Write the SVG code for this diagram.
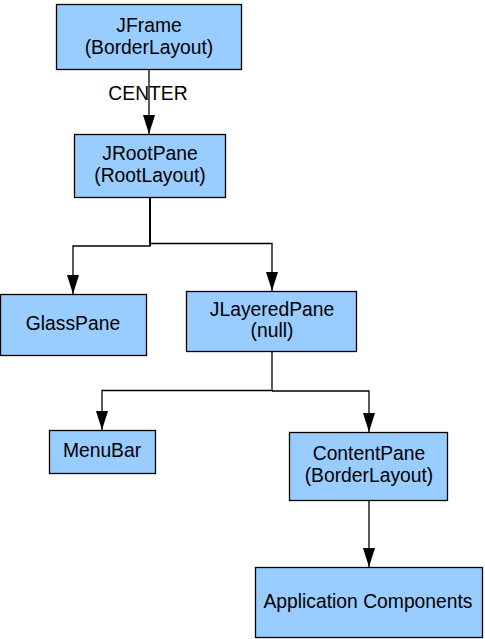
<svg xmlns="http://www.w3.org/2000/svg" width="485" height="639" viewBox="0 0 485 639">
<style>
.box{fill:#99ccff;stroke:#000;stroke-width:1.3}
.t{font-family:"Liberation Sans",Arial,sans-serif;font-size:19.3px;fill:#000;text-anchor:middle}
.c{fill:none;stroke:#000;stroke-width:1.3}
</style>
<defs>
<marker id="arr" markerUnits="userSpaceOnUse" markerWidth="20" markerHeight="13" viewBox="0 0 20 13" refX="19" refY="6.5" orient="auto">
<path d="M0,0.5 L19,6.5 L0,12.5 Z" fill="#000"/>
</marker>
</defs>
<rect width="485" height="639" fill="#fff"/>
<g id="connectors">
<path class="c" d="M149,69 V134" marker-end="url(#arr)"/>
<text class="t" x="148" y="100">CENTER</text>
<path class="c" d="M150,197 V246 H73 V294" marker-end="url(#arr)"/>
<path d="M150,197 V246" stroke="#000" stroke-width="2" fill="none"/>
<path class="c" d="M150,243.5 H272 V291" marker-end="url(#arr)"/>
<path class="c" d="M272,351 V390.5 H102 V430" marker-end="url(#arr)"/>
<path class="c" d="M272,391 H369 V432" marker-end="url(#arr)"/>
<path class="c" d="M369,500 V567" marker-end="url(#arr)"/>
</g>
<g id="jframe">
<rect class="box" x="56.5" y="4.5" width="185" height="65"/>
<text class="t" x="149" y="32">JFrame</text>
<text class="t" x="149" y="54">(BorderLayout)</text>
</g>
<g id="jrootpane">
<rect class="box" x="74.5" y="134.5" width="151" height="63"/>
<text class="t" x="150" y="160">JRootPane</text>
<text class="t" x="150" y="182">(RootLayout)</text>
</g>
<g id="glasspane">
<rect class="box" x="0.5" y="294.5" width="146" height="61"/>
<text class="t" x="73" y="330">GlassPane</text>
</g>
<g id="jlayeredpane">
<rect class="box" x="186.5" y="291.5" width="170" height="60"/>
<text class="t" x="272" y="316">JLayeredPane</text>
<text class="t" x="272" y="337">(null)</text>
</g>
<g id="menubar">
<rect class="box" x="49.5" y="430.5" width="106" height="43"/>
<text class="t" x="102" y="457">MenuBar</text>
</g>
<g id="contentpane">
<rect class="box" x="289.5" y="432.5" width="158" height="68"/>
<text class="t" x="369" y="460">ContentPane</text>
<text class="t" x="369" y="482">(BorderLayout)</text>
</g>
<g id="appcomponents">
<rect class="box" x="255.5" y="567.5" width="227" height="70"/>
<text class="t" x="368" y="608">Application Components</text>
</g>
</svg>
